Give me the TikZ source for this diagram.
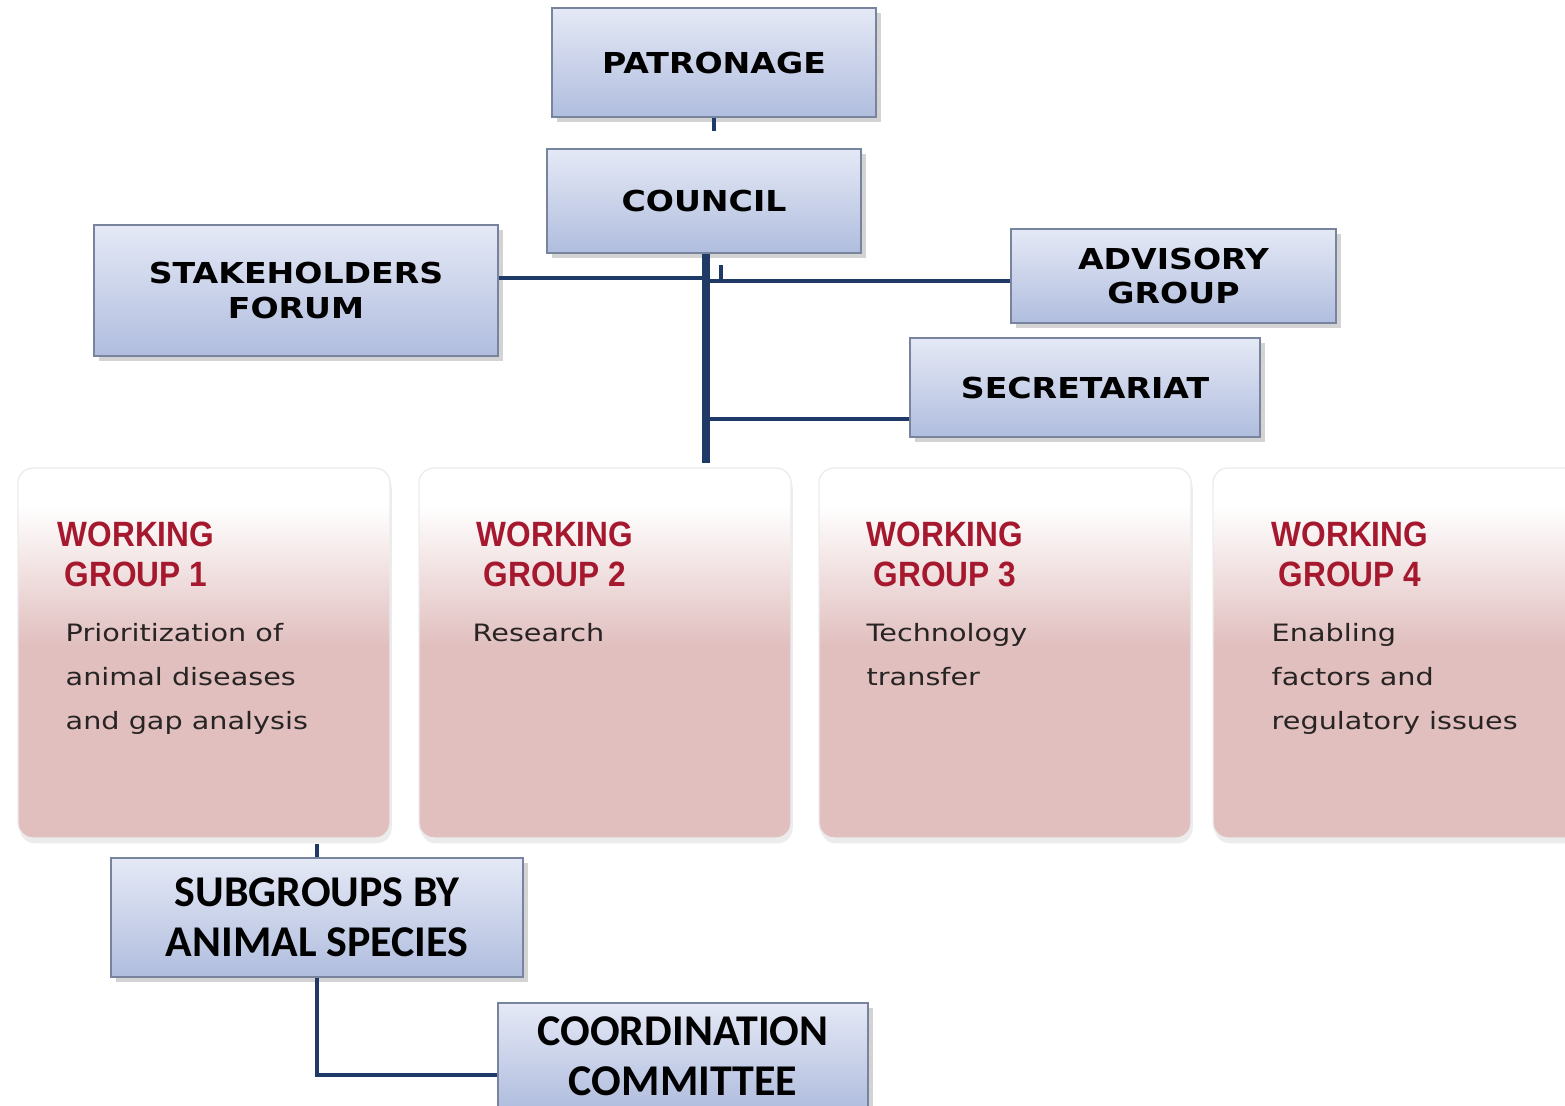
\documentclass[tikz,border=0pt]{standalone}
\usepackage{fontspec}
\newfontfamily\boxfont[FakeStretch=1.15]{DejaVu Sans}
\newfontfamily\subfont{Carlito}
\newfontfamily\wgtitlefont[FakeStretch=0.9]{Liberation Sans}
\newfontfamily\wgdescfont[FakeStretch=1.2]{DejaVu Sans}
\usepackage{xcolor}
\definecolor{linkblue}{RGB}{31,58,102}
\definecolor{boxtop}{RGB}{229,233,246}
\definecolor{boxbot}{RGB}{176,189,222}
\definecolor{boxline}{RGB}{120,132,158}
\definecolor{wgpink}{RGB}{225,191,191}
\definecolor{wgred}{RGB}{165,24,46}
\definecolor{wgtext}{RGB}{40,36,36}
\usetikzlibrary{shadows}
\pgfdeclareverticalshading{wgshade}{100bp}{color(0bp)=(wgpink); color(51bp)=(wgpink); color(70bp)=(white); color(100bp)=(white)}
\tikzset{
    orgbox/.style = {draw=boxline, top color=boxtop, bottom color=boxbot,
        drop shadow={shadow xshift=1.5pt, shadow yshift=-1.5pt, opacity=0.35},
        align=center, inner sep=0pt, font=\boxfont\bfseries\fontsize{8.2}{9.8}\selectfont},
    subbox/.style = {orgbox, font=\subfont\bfseries\fontsize{12.5}{14.2}\selectfont},
    wgbox/.style = {draw=white!85!gray, shading=wgshade, rounded corners=0.15cm,
        drop shadow={shadow xshift=0.5pt, shadow yshift=-1.5pt, opacity=0.15},
        minimum width=3.72cm, minimum height=3.70cm, inner sep=0pt},
    wgtitle/.style = {anchor=north, align=center, inner sep=0pt, text=wgred,
        font=\wgtitlefont\bfseries\fontsize{10}{11.4}\selectfont},
    wgdesc/.style = {anchor=north west, align=left, inner sep=0pt, text=wgtext,
        font=\wgdescfont\fontsize{6.8}{12.5}\selectfont},
    link/.style = {draw=linkblue, line width=1.4pt},
    mainlink/.style = {draw=linkblue, line width=2pt}
}

\begin{document}
\begin{tikzpicture}[line cap=butt, line join=miter]
	\path[use as bounding box, clip] (0,0) rectangle (15.65,-11.05);
	% top of the chart
	\node[orgbox, minimum width=3.24cm, minimum height=1.09cm] (pat) at (7.14,-0.625) {PATRONAGE};
	\node[orgbox, minimum width=3.14cm, minimum height=1.04cm] (council) at (7.04,-2.01) {COUNCIL};
	\node[orgbox, minimum width=4.04cm, minimum height=1.31cm] (stake) at (2.96,-2.905) {STAKEHOLDERS\\FORUM};
	\node[orgbox, minimum width=3.25cm, minimum height=0.94cm] (adv) at (11.735,-2.76) {ADVISORY\\GROUP};
	\node[orgbox, minimum width=3.50cm, minimum height=0.99cm] (sec) at (10.85,-3.875) {SECRETARIAT};
	% working groups
	\node[wgbox] (wg1) at (2.04,-6.53) {};
	\node[wgbox] (wg2) at (6.05,-6.53) {};
	\node[wgbox] (wg3) at (10.05,-6.53) {};
	\node[wgbox] (wg4) at (13.99,-6.53) {};
	\node[wgtitle] (wg1t) at (1.36,-5.21) {WORKING\\GROUP 1};
	\node[wgtitle] (wg2t) at (5.55,-5.21) {WORKING\\GROUP 2};
	\node[wgtitle] (wg3t) at (9.45,-5.21) {WORKING\\GROUP 3};
	\node[wgtitle] (wg4t) at (13.50,-5.21) {WORKING\\GROUP 4};
	\node[wgdesc] (wg1d) at (0.65,-6.23) {Prioritization of\\animal diseases\\and gap analysis};
	\node[wgdesc] (wg2d) at (4.72,-6.23) {Research};
	\node[wgdesc] (wg3d) at (8.66,-6.23) {Technology\\transfer};
	\node[wgdesc] (wg4d) at (12.71,-6.23) {Enabling\\factors and\\regulatory issues};
	% lower part
	\node[subbox, minimum width=4.12cm, minimum height=1.19cm] (sub) at (3.17,-9.175) {SUBGROUPS BY\\ANIMAL SPECIES};
	\node[subbox, minimum width=3.70cm, minimum height=1.06cm] (coord) at (6.83,-10.56) {COORDINATION\\COMMITTEE};
	% connectors
	\coordinate (hub) at (7.06,-4.63);
	\coordinate (jA) at (7.06,-2.78);
	\coordinate (jB) at (7.06,-2.81);
	\coordinate (jC) at (7.06,-4.19);
	\draw[link] (pat.south) -- ++(0,-0.13);
	\draw[mainlink] (hub |- council.south) -- (hub);
	\draw[link] (stake.east |- jA) -- (jA);
	\draw[link] (jB) -- (adv.west |- jB);
	\draw[link] (jC) -- (sec.west |- jC);
	\draw[draw=linkblue, line width=0.9pt] (jB) ++(0.15,0) -- ++(0,0.16);
	\draw[link] (sub.north) -- ++(0,0.13);
	\draw[link] (sub.south) |- ([yshift=-0.19cm]coord.west);
\end{tikzpicture}
\end{document}
